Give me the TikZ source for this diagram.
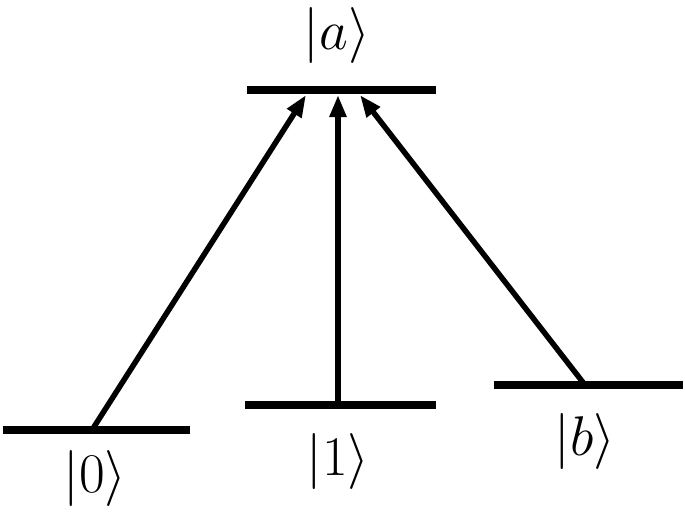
\documentclass[tikz,border=0pt]{standalone}
\usetikzlibrary{arrows.meta}

\begin{document}
\begin{tikzpicture}[x=1pt,y=-1pt]
\tikzstyle{level} = [line width=8pt]
\tikzstyle{trans} = [line width=5.5pt, -{Triangle[length=22pt,width=16pt]}]
\tikzstyle{ket} = [font=\Huge, scale=2.25, transform shape, inner sep=0pt]
\useasboundingbox (0,0) rectangle (685,515);
% levels
\draw[level] (247,90) -- (436,90);
\draw[level] (3,430) -- (190,430);
\draw[level] (245,405) -- (436,405);
\draw[level] (494,385) -- (683,385);
% end points of the transitions
\coordinate (up0) at (306,95);
\coordinate (up1) at (338,95);
\coordinate (upb) at (360,95);
\coordinate (lo0) at (92,430);
\coordinate (lo1) at (338,405);
\coordinate (lob) at (585,385);
% labels
\node[ket] (ka) at (337,36) {$|a\rangle$};
\node[ket] (k0) at (95,478) {$|0\rangle$};
\node[ket] (k1) at (338,461) {$|1\rangle$};
\node[ket] (kb) at (585,441) {$|b\rangle$};
% transitions
\draw[trans] (lo0) -- (up0);
\draw[trans] (lo1) -- (up1);
\draw[trans] (lob) -- (upb);
\end{tikzpicture}
\end{document}
